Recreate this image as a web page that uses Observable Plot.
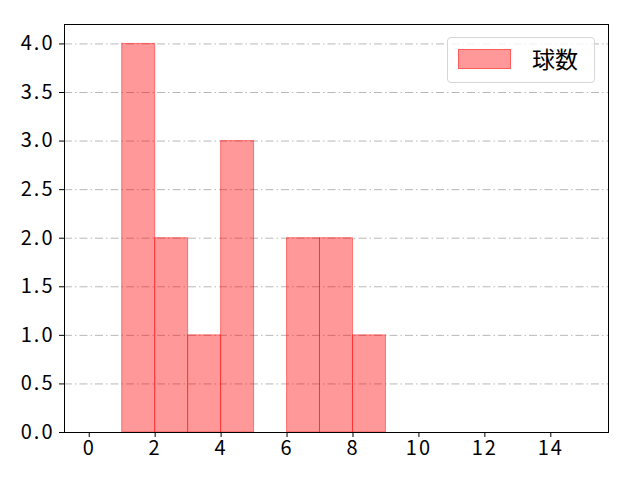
<!DOCTYPE html>
<html>
<head>
<meta charset="utf-8">
<script src="https://cdn.jsdelivr.net/npm/d3@7"></script>
<script src="https://cdn.jsdelivr.net/npm/@observablehq/plot@0.6"></script>
<style>
  body { margin: 0; background: #fff; }
  #wrap { position: relative; width: 640px; height: 480px; }
  #wrap svg text { font-family: "Noto Sans CJK JP", sans-serif; font-size: 20px; letter-spacing: 2px; fill: #000; }
  #legend {
    position: absolute; left: 447px; top: 37px; width: 148px; height: 46px;
    border: 1px solid #d5d5d5; border-radius: 4px; background: rgba(255,255,255,0.8);
    box-sizing: border-box; font-family: "Noto Sans CJK JP", sans-serif; font-size: 23px;
  }
  #legend .sw { position: absolute; left: 10px; top: 11px; width: 53px; height: 20px;
    background: rgba(255,0,0,0.4); border: 1px solid rgba(255,0,0,0.4); box-sizing: border-box; }
  #legend .lb { position: absolute; left: 84px; top: 5px; line-height: 30px; color: #000; }
</style>
</head>
<body>
<div id="wrap"></div>
<script>
const binStart = [0,1,2,3,4,5,6,7,8,9,10,11,12,13,14];
const binEnd   = [1,2,3,4,5,6,7,8,9,10,11,12,13,14,15];
const counts   = [0,4,2,1,3,0,2,2,1,0,0,0,0,0,0];
const xTicks = [0,2,4,6,8,10,12,14];
const yTicks = [0,0.5,1,1.5,2,2.5,3,3.5,4];
const seriesName = "球数";

const bins = binStart.map((s,i)=>({x1:s, x2:binEnd[i], y:counts[i]}));

const chart = Plot.plot({
  width: 640, height: 480,
  marginLeft: 64, marginRight: 32, marginTop: 24, marginBottom: 48,
  style: { background: "#fff", fontFamily: "'Noto Sans CJK JP', sans-serif", fontSize: "20px", color: "#000" },
  x: { domain: [-0.75, 15.75] },
  y: { domain: [0, 4.2] },
  marks: [
    Plot.ruleY(yTicks.slice(1), { stroke: "#b0b0b0", strokeWidth: 0.9, strokeDasharray: "8,3,1.5,3" }),
    Plot.rectY(bins, { x1: "x1", x2: "x2", y: "y", fill: "#ff0000", fillOpacity: 0.4, stroke: "#ff0000", strokeOpacity: 0.45, strokeWidth: 1 }),
    Plot.axisX({ ticks: xTicks, tickSize: 5, tickPadding: 3, label: null, tickFormat: d => String(d) }),
    Plot.axisY({ ticks: yTicks, tickSize: 5, tickPadding: 5, label: null, tickFormat: d => d.toFixed(1) }),
    Plot.frame({ stroke: "#000", strokeWidth: 1 })
  ]
});
const wrap = document.getElementById("wrap");
wrap.appendChild(chart);
const lg = document.createElement("div");
lg.id = "legend";
lg.innerHTML = '<div class="sw"></div><div class="lb"></div>';
lg.querySelector(".lb").textContent = seriesName;
wrap.appendChild(lg);
</script>
</body>
</html>
